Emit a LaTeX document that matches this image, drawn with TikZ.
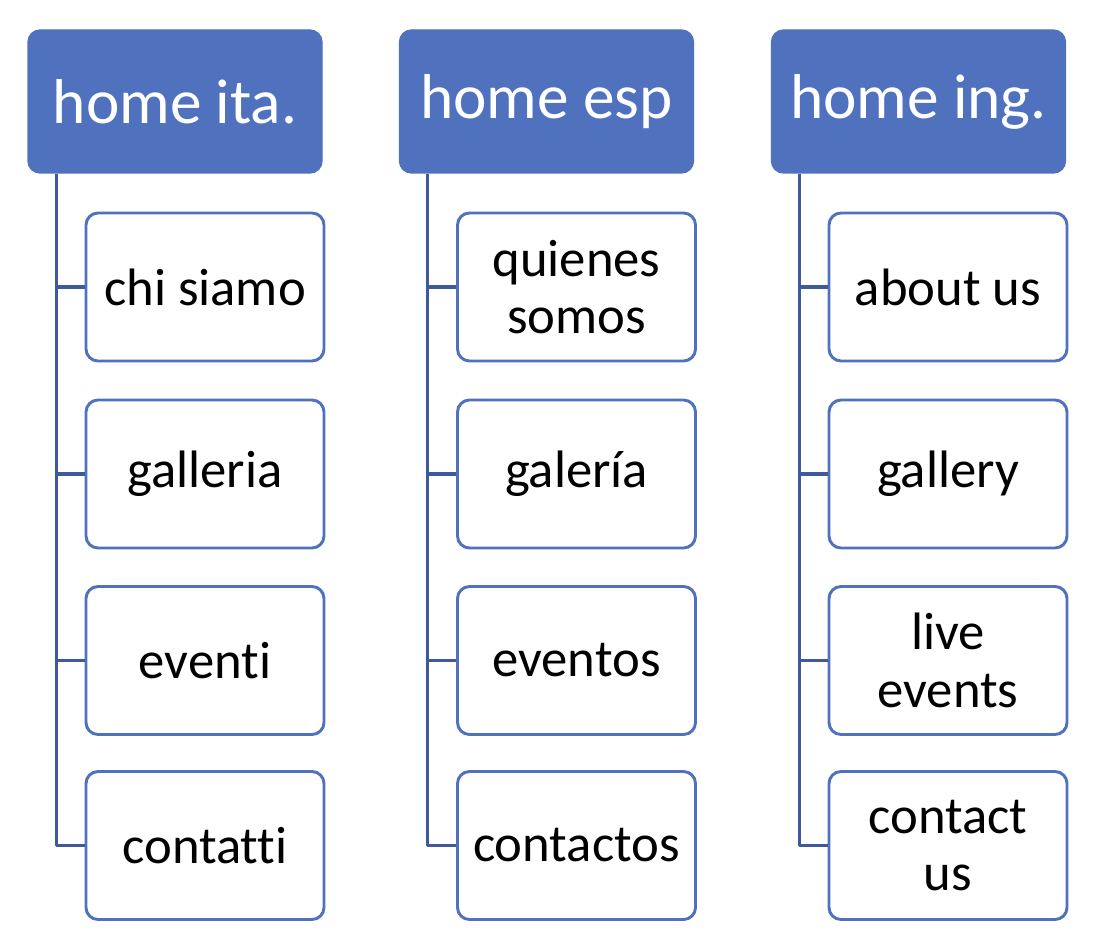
\documentclass[tikz,border=0pt]{standalone}
\usepackage{fontspec}
\setmainfont[Ligatures=NoCommon]{Carlito}
\usepackage{tikz}
\definecolor{headblue}{RGB}{80,114,190}
\definecolor{linkblue}{RGB}{63,90,156}

\begin{document}
\begin{tikzpicture}[x=0.75pt,y=-0.75pt,line join=round,
  headbox/.style={fill=headblue,draw=headblue,line width=1pt,rounded corners=9pt,
    minimum width=220.5pt,minimum height=107.25pt,inner sep=0pt,text=white,
    font=\fontsize{47.5}{52}\selectfont},
  pagebox/.style={draw=headblue,line width=2.2pt,fill=white,rounded corners=9pt,
    minimum width=178.5pt,minimum height=111pt,inner sep=0pt,align=center,
    font=\fontsize{39.5}{43}\selectfont},
  tree/.style={linkblue,line width=2.4pt}]
  \useasboundingbox (0,0) rectangle (1118,941);
  % top row: one home per language
  \node[headbox] (ita) at (175,101.5) {home ita.};
  \node[headbox] (esp) at (546.5,101.5) {home esp};
  \node[headbox] (ing) at (918.5,101.5) {home ing.};
  % pages under each home
  \node[pagebox] (ita1) at (205,287) {chi siamo};
  \node[pagebox] (ita2) at (205,474) {galleria};
  \node[pagebox] (ita3) at (205,660.5) {eventi};
  \node[pagebox] (ita4) at (205,845.5) {contatti};
  \node[pagebox] (esp1) at (576.5,287) {quienes\\somos};
  \node[pagebox] (esp2) at (576.5,474) {galería};
  \node[pagebox] (esp3) at (576.5,660.5) {eventos};
  \node[pagebox] (esp4) at (576.5,845.5) {contactos};
  \node[pagebox] (ing1) at (948,287) {about us};
  \node[pagebox] (ing2) at (948,474) {gallery};
  \node[pagebox] (ing3) at (948,660.5) {live\\events};
  \node[pagebox] (ing4) at (948,845.5) {contact\\us};
  % connectors
  \foreach \h in {ita,esp,ing} {
    \coordinate (\h root) at ([xshift=21.75pt]\h.south west);
    \draw[tree] (\h root) |- (\h4.west);
    \foreach \i in {1,2,3} \draw[tree] (\h root |- \h\i.west) -- (\h\i.west);
  }
\end{tikzpicture}
\end{document}
